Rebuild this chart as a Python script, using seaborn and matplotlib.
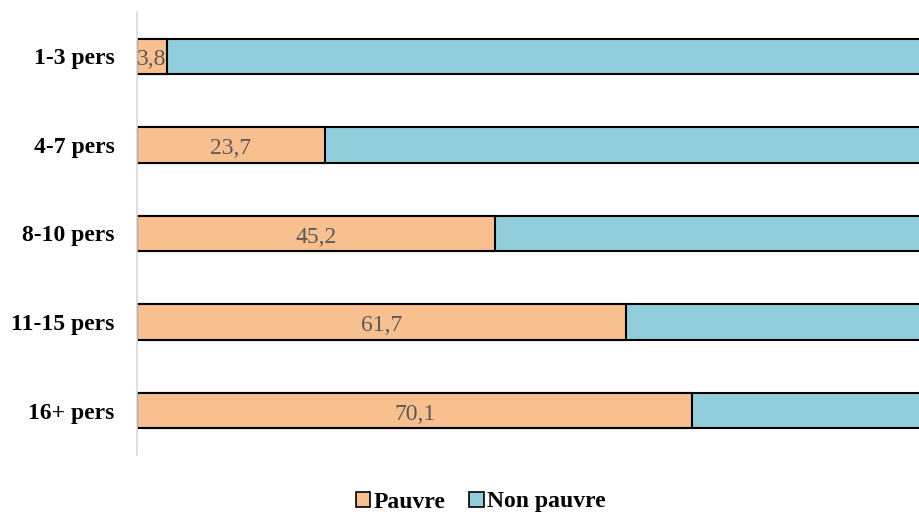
import numpy as np
import pandas as pd
import matplotlib
matplotlib.use("Agg")
import matplotlib.pyplot as plt
import seaborn as sns
from matplotlib.patches import Patch

groupes = ["1-3 pers", "4-7 pers", "8-10 pers", "11-15 pers", "16+ pers"]
pauvre = [3.8, 23.7, 45.2, 61.7, 70.1]
non_pauvre = [100 - v for v in pauvre]

df = pd.DataFrame({"groupe": groupes, "Pauvre": pauvre, "Non pauvre": non_pauvre})
df["total"] = df["Pauvre"] + df["Non pauvre"]

sns.set_style("white")
plt.rcParams["font.family"] = ["Liberation Serif", "DejaVu Serif"]

orange = "#F9C08F"
bleu = "#92CDDC"

fig = plt.figure(figsize=(9.19, 5.15), dpi=100)
ax = fig.add_axes([137 / 919, 60 / 515, 1 - 137 / 919, 443 / 515])

# stacked: total first (blue), then pauvre on top (orange)
sns.barplot(data=df, x="total", y="groupe", color=bleu, width=0.4, saturation=1,
            edgecolor="black", linewidth=1.5, ax=ax, orient="h")
sns.barplot(data=df, x="Pauvre", y="groupe", color=orange, width=0.4, saturation=1,
            edgecolor="black", linewidth=1.5, ax=ax, orient="h")

for i, v in enumerate(pauvre):
    ax.text(v / 2, i + 0.04, f"{v:.1f}".replace(".", ","), ha="center", va="center",
            fontsize=17, color="#595959")

ax.set_xlim(0, 98.7)
ax.set_ylim(4.5, -0.5)
ax.set_xlabel("")
ax.set_ylabel("")
ax.set_xticks([])
ax.tick_params(axis="y", length=0, pad=16)
for lab in ax.get_yticklabels():
    lab.set_fontweight("bold")
    lab.set_fontsize(17)
    lab.set_color("black")
for s in ["top", "right", "bottom"]:
    ax.spines[s].set_visible(False)
ax.spines["left"].set_color("#d9d9d9")
ax.spines["left"].set_linewidth(1.2)

handles = [Patch(facecolor=orange, edgecolor="black", linewidth=1.2, label="Pauvre"),
           Patch(facecolor=bleu, edgecolor="black", linewidth=1.2, label="Non pauvre")]
leg = fig.legend(handles=handles, loc="center", bbox_to_anchor=(481 / 919, 1 - 502 / 515),
                 ncol=2, frameon=False, handlelength=0.6, handleheight=0.6,
                 handletextpad=0.15, columnspacing=1.0,
                 prop={"weight": "bold", "size": 17})
for t in leg.get_texts():
    t.set_color("black")

fig.savefig("out.png", dpi=100)
